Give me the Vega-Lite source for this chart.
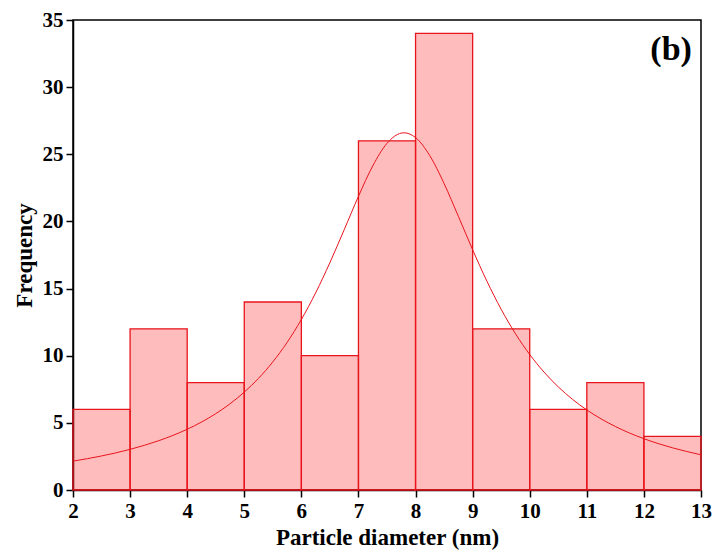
{
  "$schema": "https://vega.github.io/schema/vega-lite/v6.json",
  "autosize": {"type": "none"},
  "padding": {"left": 73, "top": 20, "right": 11, "bottom": 61},
  "width": 628,
  "height": 470,
  "background": "white",
  "config": {
    "view": {"stroke": "black", "strokeWidth": 1.5},
    "font": "Liberation Serif"
  },
  "datasets": {
    "bins": [
      {"start": 2, "end": 3, "count": 6},
      {"start": 3, "end": 4, "count": 12},
      {"start": 4, "end": 5, "count": 8},
      {"start": 5, "end": 6, "count": 14},
      {"start": 6, "end": 7, "count": 10},
      {"start": 7, "end": 8, "count": 26},
      {"start": 8, "end": 9, "count": 34},
      {"start": 9, "end": 10, "count": 12},
      {"start": 10, "end": 11, "count": 6},
      {"start": 11, "end": 12, "count": 8},
      {"start": 12, "end": 13, "count": 4}
    ],
    "fit": [
      {"d": 2.0, "f": 2.150}, {"d": 2.25, "f": 2.331}, {"d": 2.5, "f": 2.535}, {"d": 2.75, "f": 2.765},
      {"d": 3.0, "f": 3.027}, {"d": 3.25, "f": 3.326}, {"d": 3.5, "f": 3.669}, {"d": 3.75, "f": 4.065},
      {"d": 4.0, "f": 4.523}, {"d": 4.25, "f": 5.057}, {"d": 4.5, "f": 5.683}, {"d": 4.75, "f": 6.419},
      {"d": 5.0, "f": 7.288}, {"d": 5.25, "f": 8.318}, {"d": 5.5, "f": 9.541}, {"d": 5.75, "f": 10.988},
      {"d": 6.0, "f": 12.697}, {"d": 6.25, "f": 14.680}, {"d": 6.5, "f": 16.932}, {"d": 6.75, "f": 19.378},
      {"d": 7.0, "f": 21.869}, {"d": 7.25, "f": 24.132}, {"d": 7.5, "f": 25.815}, {"d": 7.75, "f": 26.578},
      {"d": 7.8, "f": 26.6}, {"d": 8.0, "f": 26.245}, {"d": 8.25, "f": 24.896}, {"d": 8.5, "f": 22.821},
      {"d": 8.75, "f": 20.382}, {"d": 9.0, "f": 17.891}, {"d": 9.25, "f": 15.549}, {"d": 9.5, "f": 13.456},
      {"d": 9.75, "f": 11.640}, {"d": 10.0, "f": 10.091}, {"d": 10.25, "f": 8.782}, {"d": 10.5, "f": 7.679},
      {"d": 10.75, "f": 6.748}, {"d": 11.0, "f": 5.963}, {"d": 11.25, "f": 5.296}, {"d": 11.5, "f": 4.727},
      {"d": 11.75, "f": 4.240}, {"d": 12.0, "f": 3.820}, {"d": 12.25, "f": 3.457}, {"d": 12.5, "f": 3.142},
      {"d": 12.75, "f": 2.866}, {"d": 13.0, "f": 2.623}
    ],
    "panel": [{"px": 12.84, "py": 32.8, "label": "(b)"}]
  },
  "layer": [
    {
      "data": {"name": "bins"},
      "mark": {"type": "rect", "fill": "#ff2020", "fillOpacity": 0.3, "stroke": "#e8141c", "strokeWidth": 1.3},
      "encoding": {
        "x": {
          "field": "start", "type": "quantitative",
          "scale": {"domain": [2, 13], "nice": false, "zero": false},
          "axis": {
            "title": "Particle diameter (nm)",
            "values": [2, 2.5, 3, 3.5, 4, 4.5, 5, 5.5, 6, 6.5, 7, 7.5, 8, 8.5, 9, 9.5, 10, 10.5, 11, 11.5, 12, 12.5, 13],
            "format": "~g",
            "labelExpr": "datum.value % 1 === 0 ? datum.label : ''",
            "tickSize": {"condition": {"test": "datum.value % 1 !== 0", "value": 4}, "value": 7},
            "grid": false,
            "domainColor": "black", "domainWidth": 1.5,
            "tickColor": "black", "tickWidth": 1.5,
            "labelFont": "Liberation Serif", "labelFontSize": 21, "labelFontWeight": "bold", "labelColor": "black",
            "labelPadding": 3, "labelFlush": false, "labelOverlap": false,
            "titleFont": "Liberation Serif", "titleFontSize": 23, "titleFontWeight": "bold", "titleColor": "black",
            "titlePadding": 5
          }
        },
        "x2": {"field": "end"},
        "y": {
          "field": "count", "type": "quantitative",
          "scale": {"domain": [0, 35], "nice": false},
          "axis": {
            "title": "Frequency",
            "values": [0, 2.5, 5, 7.5, 10, 12.5, 15, 17.5, 20, 22.5, 25, 27.5, 30, 32.5, 35],
            "format": "~g",
            "labelExpr": "datum.value % 5 === 0 ? datum.label : ''",
            "tickSize": {"condition": {"test": "datum.value % 5 !== 0", "value": 4}, "value": 7},
            "grid": false,
            "domainColor": "black", "domainWidth": 1.5,
            "tickColor": "black", "tickWidth": 1.5,
            "labelFont": "Liberation Serif", "labelFontSize": 21, "labelFontWeight": "bold", "labelColor": "black",
            "labelPadding": 3, "labelFlush": false, "labelOverlap": false,
            "titleFont": "Liberation Serif", "titleFontSize": 23, "titleFontWeight": "bold", "titleColor": "black",
            "titlePadding": 6
          }
        },
        "y2": {"datum": 0}
      }
    },
    {
      "data": {"name": "fit"},
      "mark": {"type": "line", "color": "#e8141c", "strokeWidth": 1, "interpolate": "monotone"},
      "encoding": {
        "x": {"field": "d", "type": "quantitative"},
        "y": {"field": "f", "type": "quantitative"}
      }
    },
    {
      "data": {"name": "panel"},
      "mark": {"type": "text", "align": "right", "baseline": "middle", "font": "Liberation Serif", "fontSize": 34, "fontWeight": "bold", "color": "black"},
      "encoding": {
        "x": {"field": "px", "type": "quantitative"},
        "y": {"field": "py", "type": "quantitative"},
        "text": {"field": "label"}
      }
    }
  ]
}
